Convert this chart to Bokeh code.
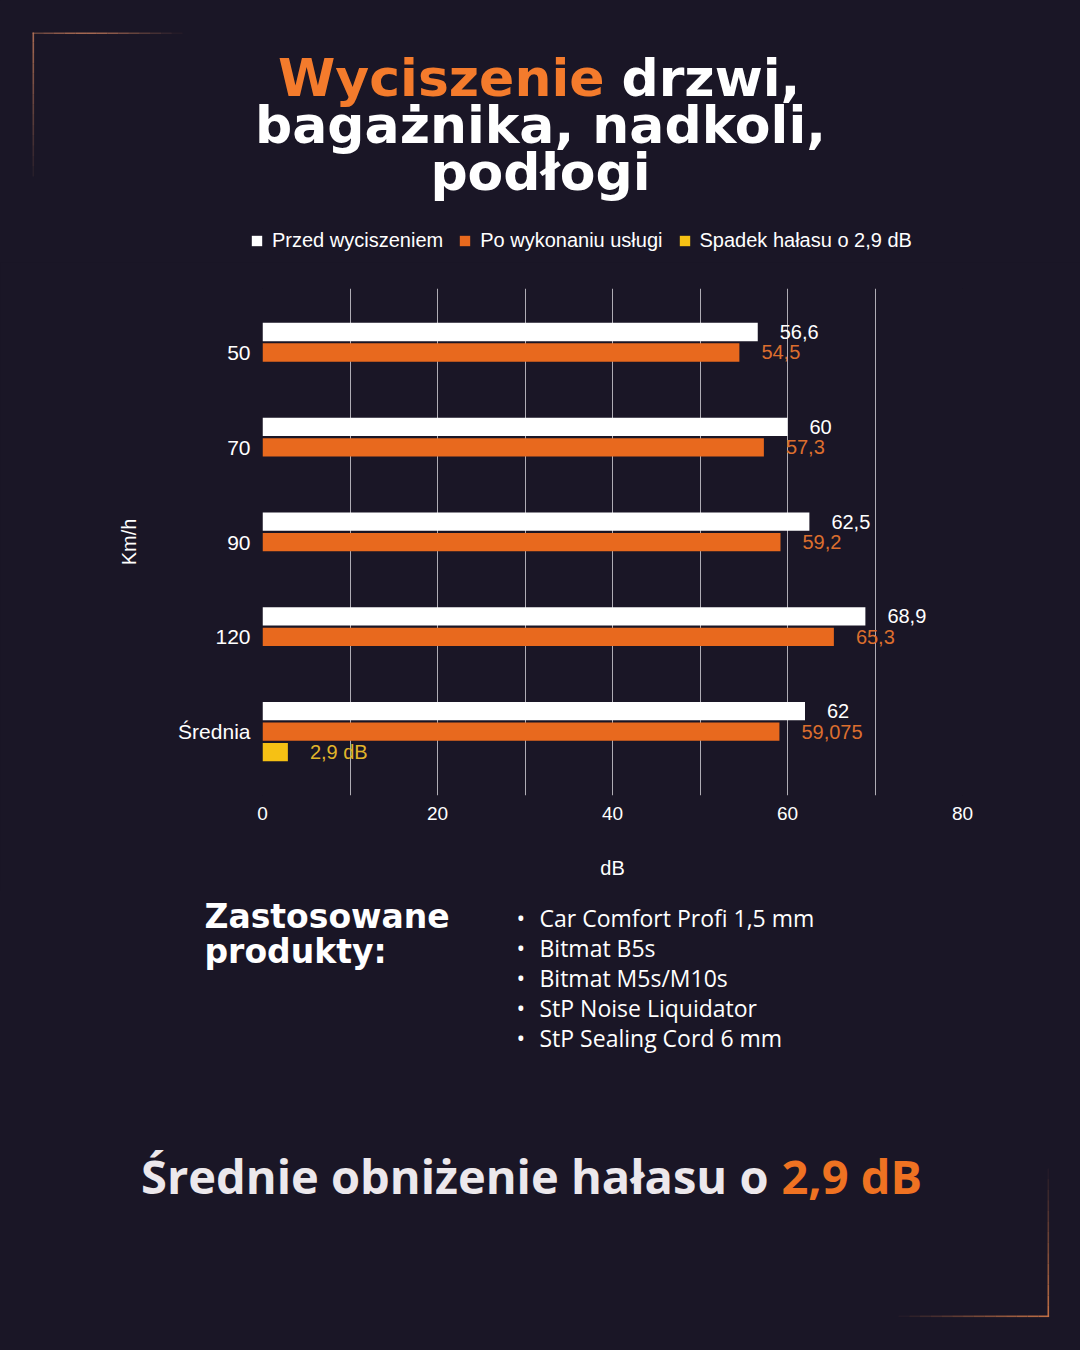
from bokeh.plotting import figure
from bokeh.layouts import column
from bokeh.models import (Range1d, FixedTicker, Label, ColumnDataSource, Legend, LegendItem)
from bokeh.transform import dodge
from bokeh.core.properties import value
from bokeh.embed import file_html
from bokeh.resources import INLINE

# ---------------- data ----------------
speeds = ["50", "70", "90", "120", "Średnia"]
before = [56.6, 60, 62.5, 68.9, 62]
after = [54.5, 57.3, 59.2, 65.3, 59.075]
drop = [0, 0, 0, 0, 2.9]
series_names = ["Przed wyciszeniem", "Po wykonaniu usługi", "Spadek hałasu o 2,9 dB"]
x_ticks = [0, 20, 40, 60, 80]
x_minor = [10, 30, 50, 70]
products = ["Car Comfort Profi 1,5 mm", "Bitmat B5s", "Bitmat M5s/M10s",
            "StP Noise Liquidator", "StP Sealing Cord 6 mm"]

BG = "#1a1626"
WHITE = "#ffffff"
ORANGE_BAR = "#e8691e"
ORANGE_TXT = "#dc6e2e"
YELLOW_BAR = "#f6c114"
YELLOW_TXT = "#e2b52a"
TITLE_OR = "#f47b2c"
series_colors = [WHITE, ORANGE_BAR, YELLOW_BAR]

def fmt(v):
    return f"{v:g}".replace(".", ",")

ys = list(range(len(speeds)))
src = ColumnDataSource(dict(y=ys, before=before, after=after,
                            before_lbl=[fmt(v) for v in before],
                            after_lbl=[fmt(v) for v in after]))
dsel = [i for i, v in enumerate(drop) if v > 0]
src_drop = ColumnDataSource(dict(y=[ys[i] for i in dsel], drop=[drop[i] for i in dsel],
                                 drop_lbl=[fmt(drop[i]) + " dB" for i in dsel]))

W = 1080
TOP_H = 262          # title + legend band
CH_BOTTOM = 890      # page y where the chart figure ends
FL, FR, FT, FB = 262, 962, 288, 795   # chart frame in page pixels
STY = {"background-color": BG}
BASE_K = 0.36        # label anchor sits this fraction of the font size above the baseline


def deco_fig(y0, y1):
    f = figure(width=W, height=y1 - y0, output_backend="svg", toolbar_location=None,
               x_range=Range1d(0, W), y_range=Range1d(y1, y0),
               x_axis_location=None, y_axis_location=None,
               min_border=0, background_fill_color=BG, border_fill_color=BG,
               outline_line_color=None, frame_align=False, styles=STY)
    f.grid.visible = False
    return f


def lab(f, text, X, Y, size, color, font="DejaVu Sans", style="normal", align="left"):
    # Y is the wanted baseline
    f.add_layout(Label(x=X, y=Y - BASE_K * size, text=text, text_font_size=f"{size}px",
                       text_color=color, text_font=font, text_font_style=style,
                       text_align=align, text_baseline="alphabetic"))


def gradient_h(f, x0, x1, y, color, alphas):
    n = len(alphas)
    step = (x1 - x0) / n
    f.quad(left=[x0 + step * k for k in range(n)], right=[x0 + step * (k + 1) for k in range(n)],
           top=[y] * n, bottom=[y + 1.6] * n, fill_color=color, fill_alpha=alphas, line_color=None)


def gradient_v(f, x, y0, y1, color, alphas):
    n = len(alphas)
    step = (y1 - y0) / n
    f.quad(left=[x] * n, right=[x + 1.6] * n, top=[y0 + step * k for k in range(n)],
           bottom=[y0 + step * (k + 1) for k in range(n)], fill_color=color,
           fill_alpha=alphas, line_color=None)


# ---------------- top band: title + legend ----------------
top = deco_fig(0, TOP_H)
TS = 52
lab(top, "Wyciszenie", 604, 96, TS, TITLE_OR, style="bold", align="right")
lab(top, "drzwi,", 621, 96, TS, WHITE, style="bold")
lab(top, "bagażnika, nadkoli,", 540, 143, TS, WHITE, style="bold", align="center")
lab(top, "podłogi", 540, 190, TS, WHITE, style="bold", align="center")

N = 14
a_h = [0.45, 0.55, 0.65, 0.75, 0.8, 0.8, 0.75, 0.65, 0.55, 0.45, 0.35, 0.25, 0.15, 0.06]
a_v = [0.8 - 0.055 * k for k in range(N)]
gradient_h(top, 32, 182, 32, "#c47c5c", a_h)
gradient_v(top, 32, 32, 176, "#c47c5c", a_v)

# legend key glyphs (zero-size bars, only their colours are used by the legend)
leg_renderers = [top.hbar(y=[0], left=[0], right=[0], height=0, fill_color=c, line_color=None)
                 for c in series_colors]
legend = Legend(items=[LegendItem(label=n, renderers=[r])
                       for n, r in zip(series_names, leg_renderers)],
                orientation="horizontal", location=(250, TOP_H - 252),
                label_text_color=WHITE, label_text_font="Liberation Sans",
                label_text_font_size="20px", glyph_width=13, glyph_height=13,
                label_standoff=9, spacing=15, padding=0, margin=0,
                border_line_color=None, background_fill_alpha=0)
top.add_layout(legend)

# ---------------- chart ----------------
p = figure(width=W, height=CH_BOTTOM - TOP_H, output_backend="svg", toolbar_location=None,
           x_range=Range1d(0, 80), y_range=Range1d(4.673, -0.675),
           min_border_left=FL, min_border_right=W - FR,
           min_border_top=FT - TOP_H, min_border_bottom=CH_BOTTOM - FB,
           background_fill_color=BG, border_fill_color=BG, outline_line_color=None,
           frame_align=False, styles=STY)

OFF = 0.216
BH = 0.193
p.hbar(y=dodge("y", -OFF, range=p.y_range), left=0, right="before", height=BH,
       fill_color=series_colors[0], line_color=None, source=src)
p.hbar(y=dodge("y", 0, range=p.y_range), left=0, right="after", height=BH,
       fill_color=series_colors[1], line_color=None, source=src)
p.hbar(y=dodge("y", OFF, range=p.y_range), left=0, right="drop", height=BH,
       fill_color=series_colors[2], line_color=None, source=src_drop)

LBL_FONT = value("Liberation Sans")
p.text(x="before", y=dodge("y", -OFF, range=p.y_range), text="before_lbl", source=src,
       x_offset=22, text_baseline="middle", text_color=WHITE, text_font=LBL_FONT,
       text_font_size="20px")
p.text(x="after", y=dodge("y", 0, range=p.y_range), text="after_lbl", source=src,
       x_offset=22, text_baseline="middle", text_color=ORANGE_TXT, text_font=LBL_FONT,
       text_font_size="20px")
p.text(x="drop", y=dodge("y", OFF, range=p.y_range), text="drop_lbl", source=src_drop,
       x_offset=22, text_baseline="middle", text_color=YELLOW_TXT, text_font=LBL_FONT,
       text_font_size="20px")

p.xaxis.ticker = FixedTicker(ticks=x_ticks)
p.yaxis.ticker = FixedTicker(ticks=ys)
p.yaxis.major_label_overrides = {i: s for i, s in enumerate(speeds)}
for ax in (p.xaxis[0], p.yaxis[0]):
    ax.axis_line_color = None
    ax.major_tick_line_color = None
    ax.minor_tick_line_color = None
    ax.major_tick_out = 0
    ax.major_tick_in = 0
    ax.minor_tick_out = 0
    ax.major_label_text_color = WHITE
    ax.major_label_text_font = "Liberation Sans"
    ax.axis_label_text_color = WHITE
    ax.axis_label_text_font = "Liberation Sans"
    ax.axis_label_text_font_style = "normal"
    ax.axis_label_text_font_size = "20px"
p.xaxis.major_label_text_font_size = "19px"
p.yaxis.major_label_text_font_size = "21px"
p.xaxis.major_label_standoff = 11
p.yaxis.major_label_standoff = 12
p.xaxis.axis_label = "dB"
p.xaxis.axis_label_standoff = 34
p.yaxis.axis_label = "Km/h"
p.yaxis.axis_label_standoff = 35

p.xgrid.ticker = FixedTicker(ticks=x_ticks, minor_ticks=x_minor)
p.xgrid.grid_line_color = "#d4d2d8"
p.xgrid.grid_line_alpha = 0.8
p.xgrid.minor_grid_line_color = "#d4d2d8"
p.xgrid.minor_grid_line_alpha = 0.8
p.ygrid.grid_line_color = None

# ---------------- bottom band ----------------
bot = deco_fig(CH_BOTTOM, 1350)
lab(bot, "Zastosowane", 204, 928, 33, WHITE, style="bold")
lab(bot, "produkty:", 204, 963, 33, WHITE, style="bold")
for i, prod in enumerate(products):
    yb = 926 + 30 * i
    lab(bot, "•", 516, yb, 23, WHITE, font="Open Sans")
    lab(bot, prod, 539, yb, 23, WHITE, font="Open Sans")

lab(bot, "Średnie obniżenie hałasu o", 768, 1192, 47, "#ece8ec", font="Open Sans",
    style="bold", align="right")
lab(bot, "2,9 dB", 781, 1192, 47, "#ef7222", font="Open Sans", style="bold")

gradient_v(bot, 1047, 1168, 1316, "#d07848", [0.05 + 0.065 * k for k in range(N)])
gradient_h(bot, 898, 1048.6, 1315, "#d07848", [0.05 + 0.065 * k for k in range(N)])

layout = column(top, p, bot, spacing=0, styles=STY)
open("out.html", "w").write(file_html(layout, INLINE))
